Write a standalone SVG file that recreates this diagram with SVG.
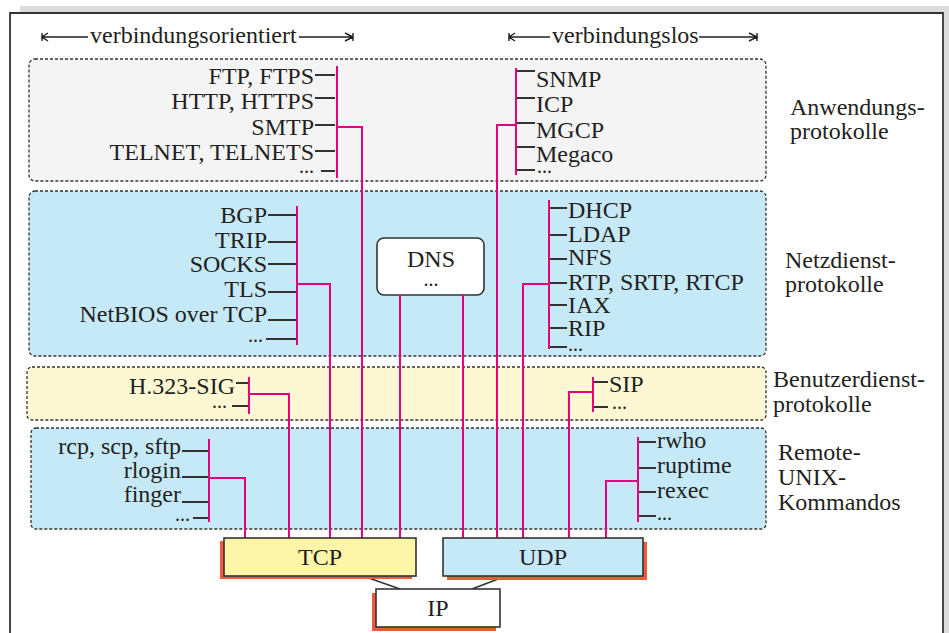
<svg xmlns="http://www.w3.org/2000/svg" width="949" height="633" viewBox="0 0 949 633">
<style>
text{font-family:"Liberation Serif","Times New Roman",serif;font-size:24px;fill:#231f20}
text.d{font-size:20px}
.e{text-anchor:end}
.m{text-anchor:middle}
.layer{stroke:#333;stroke-width:1.3;stroke-dasharray:3 2}
.tk{stroke:#333;stroke-width:1.8;fill:none}
.mg{stroke:#e6007e;stroke-width:2;fill:none}
.box{stroke:#333;stroke-width:1.6}
.sh{fill:#ef5a3a}
.ar{stroke:#231f20;stroke-width:1.4;fill:none}
</style>
<rect x="0" y="0" width="949" height="633" fill="#fff"/>
<rect x="20" y="6" width="929" height="7" fill="#dcdcdc"/>
<rect x="944" y="6" width="5" height="627" fill="#dcdcdc"/>
<path d="M10,633 V13 H943 V633" fill="none" stroke="#333" stroke-width="1.8"/>

<g id="arrow-verbindungsorientiert">
<path class="ar" d="M42,37 H88 M48,33 L42,37 L48,41 M42,33 V41 M299,37 H353 M345,33 L353,37 L345,41 M353,33 V41"/>
<text x="90" y="43">verbindungsorientiert</text>
</g>
<g id="arrow-verbindungslos">
<path class="ar" d="M509,37 H550 M515,33 L509,37 L515,41 M509,33 V41 M699,37 H757 M749,33 L757,37 L749,41 M757,33 V41"/>
<text x="552" y="43">verbindungslos</text>
</g>

<g id="layer-anwendung">
<rect class="layer" x="29" y="59" width="737" height="122" rx="6" fill="#f4f4f4"/>
<text class="e" x="314" y="84">FTP, FTPS</text>
<text class="e" x="314" y="109">HTTP, HTTPS</text>
<text class="e" x="314" y="135">SMTP</text>
<text class="e" x="314" y="160">TELNET, TELNETS</text>
<text class="e d" x="314" y="173">...</text>
<path class="tk" d="M315,75 H335 M315,98 H335 M315,125 H335 M315,151 H335 M321,171 H335"/>
<text x="536" y="87">SNMP</text>
<text x="536" y="112">ICP</text>
<text x="536" y="138">MGCP</text>
<text x="536" y="162">Megaco</text>
<text class="d" x="537" y="173">...</text>
<path class="tk" d="M516,71 H535 M516,98 H535 M516,123 H535 M516,147 H535 M516,170 H535"/>
<text x="790" y="115">Anwendungs-</text>
<text x="790" y="139">protokolle</text>
</g>

<g id="layer-netzdienst">
<rect class="layer" x="29" y="191" width="737" height="165" rx="6" fill="#c6e9f8"/>
<text class="e" x="267" y="223">BGP</text>
<text class="e" x="267" y="248">TRIP</text>
<text class="e" x="267" y="272">SOCKS</text>
<text class="e" x="267" y="297">TLS</text>
<text class="e" x="267" y="322">NetBIOS over TCP</text>
<text class="e d" x="263" y="342">...</text>
<path class="tk" d="M268,215 H297 M268,242 H297 M268,264 H297 M268,292 H297 M268,320 H297 M266,339 H297"/>
<text x="568" y="218">DHCP</text>
<text x="568" y="242">LDAP</text>
<text x="568" y="265">NFS</text>
<text x="568" y="290">RTP, SRTP, RTCP</text>
<text x="568" y="313">IAX</text>
<text x="568" y="336">RIP</text>
<text class="d" x="568" y="351">...</text>
<path class="tk" d="M549,208 H567 M549,235 H567 M549,259 H567 M549,283 H567 M549,305 H567 M549,328 H567 M549,347 H567"/>
<text x="785" y="268">Netzdienst-</text>
<text x="785" y="292">protokolle</text>
</g>

<g id="layer-benutzerdienst">
<rect class="layer" x="27" y="367" width="739" height="53" rx="5" fill="#fdf8d3"/>
<text class="e" x="235" y="394">H.323-SIG</text>
<text class="e d" x="227" y="408">...</text>
<path class="tk" d="M236,383 H248 M232,406 H248"/>
<text x="609" y="392">SIP</text>
<text class="d" x="612" y="409">...</text>
<path class="tk" d="M593,382 H608 M593,407 H608"/>
<text x="773" y="387">Benutzerdienst-</text>
<text x="773" y="412">protokolle</text>
</g>

<g id="layer-remote">
<rect class="layer" x="31" y="428" width="735" height="101" rx="5" fill="#c6e9f8"/>
<text class="e" x="181" y="454">rcp, scp, sftp</text>
<text class="e" x="181" y="478">rlogin</text>
<text class="e" x="181" y="502">finger</text>
<text class="e d" x="190" y="521">...</text>
<path class="tk" d="M182,451 H209 M182,477 H209 M182,502 H209 M193,518 H209"/>
<text x="657" y="448">rwho</text>
<text x="657" y="473">ruptime</text>
<text x="657" y="498">rexec</text>
<text class="d" x="657" y="520">...</text>
<path class="tk" d="M638,442 H656 M638,468 H656 M638,492 H656 M638,516 H656"/>
<text x="778" y="460">Remote-</text>
<text x="778" y="485">UNIX-</text>
<text x="778" y="510">Kommandos</text>
</g>

<g id="node-dns">
<rect class="box" x="377" y="238" width="107" height="57" rx="7" fill="#fff"/>
<text class="m" x="431" y="267">DNS</text>
<text class="m d" x="431" y="286">...</text>
</g>

<g id="connectors">
<path class="mg" d="M337,66 V178 M337,127 H362 V538"/>
<path class="mg" d="M516,68 V175 M516,125 H497 V538"/>
<path class="mg" d="M297,206 V345 M297,284 H330 V538"/>
<path class="mg" d="M549,200 V349 M549,284 H523 V538"/>
<path class="mg" d="M249,377 V414 M249,394 H289 V538"/>
<path class="mg" d="M593,377 V412 M593,392 H569 V538"/>
<path class="mg" d="M209,439 V522 M209,478 H245 V538"/>
<path class="mg" d="M638,437 V522 M638,481 H606 V538"/>
<path class="mg" d="M400,295 V538 M463,295 V538"/>
<path stroke="#333" stroke-width="1.5" fill="none" d="M363,576 L400,589 M506,576 L472,589"/>
</g>

<g id="node-tcp">
<rect class="sh" x="220" y="541" width="192" height="38"/>
<rect class="box" x="224" y="538" width="192" height="38" fill="#fdf6a9"/>
<text class="m" x="320" y="565">TCP</text>
</g>
<g id="node-udp">
<rect class="sh" x="447" y="542" width="200" height="38"/>
<rect class="box" x="443" y="538" width="200" height="38" fill="#c6e9f8"/>
<text class="m" x="543" y="565">UDP</text>
</g>
<g id="node-ip">
<rect class="sh" x="372" y="593" width="124" height="38"/>
<rect class="box" x="376" y="589" width="124" height="38" fill="#fff"/>
<text class="m" x="438" y="616">IP</text>
</g>
</svg>
